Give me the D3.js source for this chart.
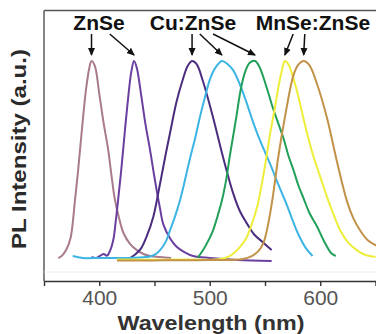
<!DOCTYPE html>
<html>
<head>
<meta charset="utf-8">
<script src="https://cdn.jsdelivr.net/npm/d3@7/dist/d3.min.js"></script>
<style>
  html, body { margin: 0; padding: 0; background: #fff; }
  svg { display: block; }
</style>
</head>
<body>
<div id="chart"></div>
<script>
// PL spectra: [wavelength (nm), normalised intensity]
const znseA = [[363,0],[366,0.01],[370,0.04],[374,0.1],[378,0.29],[381,0.45],[384,0.63],[388,0.85],[391,0.96],[393,0.995],
  [396,0.97],[400,0.83],[404,0.68],[408,0.55],[411,0.42],[414,0.3],[418,0.2],[422,0.125],[428,0.07],[434,0.04],
  [440,0.02],[446,0.01],[455,0.005],[465,0]];
const znseB = [[393,0.005],[397,0],[401,0.012],[404,0.02],[407,0.012],[410,0.04],[413,0.1],[415,0.19],[417,0.29],[420,0.45],
  [423,0.63],[426,0.8],[429,0.94],[431.5,0.995],[434,0.96],[438,0.82],[442,0.67],[446,0.545],[449,0.44],[452,0.34],
  [455,0.25],[458,0.17],[464,0.1],[470,0.057],[477,0.03],[485,0.01],[500,0],[525,-0.01],[556,-0.015]];
const cuA = [[428,0],[433,0.02],[438,0.05],[443,0.11],[449,0.21],[455,0.375],[460,0.52],[464,0.63],[470,0.79],[475,0.89],
  [480,0.97],[484,0.995],[488,0.98],[494,0.89],[503,0.71],[512,0.51],[521,0.33],[527,0.24],[533,0.18],[540,0.12],
  [548,0.08],[556,0.04]];
const cuB = [[376,0.01],[385,0],[400,0],[420,0],[440,0.004],[446,0.008],[451,0.02],[455,0.04],[460,0.08],[464,0.14],
  [468,0.2],[473,0.29],[477,0.38],[482,0.5],[487,0.61],[491,0.71],[496,0.82],[500,0.9],[505,0.96],[511,0.995],
  [516,0.98],[521,0.95],[527,0.88],[533,0.79],[539,0.69],[545,0.6],[550,0.535],[555,0.47],[560,0.4],[564,0.345],
  [570,0.265],[575,0.19],[581,0.11],[587,0.05],[593,0.01]];
const cuC = [[489,0],[494,0.04],[498,0.08],[503,0.14],[507,0.21],[511,0.29],[515,0.4],[518,0.51],[521,0.61],[524,0.71],
  [528,0.85],[532,0.94],[536,0.985],[541,0.995],[545,0.965],[551,0.87],[557,0.76],[562,0.68],[567,0.6],[571,0.52],
  [576,0.44],[580,0.37],[585,0.3],[590,0.23],[597,0.16],[603,0.09],[610,0.024],[614,0.01]];
const mnA = [[416,-0.008],[480,-0.008],[510,-0.005],[518,0.01],[523,0.03],[528,0.06],[533,0.1],[538,0.17],[543,0.26],[547,0.37],
  [551,0.5],[555,0.64],[559,0.76],[562,0.86],[565,0.94],[568,0.995],[571,0.98],[575,0.92],[580,0.82],[585,0.7],
  [589,0.61],[594,0.51],[600,0.41],[606,0.31],[612,0.22],[618,0.14],[625,0.08],[633,0.04],[641,0.015],[650,0.005]];
const mnB = [[416,-0.012],[450,-0.012],[500,-0.01],[530,-0.005],[538,0.01],[544,0.035],[548.5,0.075],[553,0.175],[557.5,0.325],[562,0.51],
  [568,0.71],[575.6,0.92],[580,0.975],[585,0.995],[590,0.975],[597,0.88],[606,0.71],[615,0.49],[624,0.29],[630,0.2],
  [636,0.14],[643,0.09],[652,0.06]];

const seriesList = [znseA, znseB, cuA, cuB, cuC, mnA, mnB];
const seriesColors = ['#a97a8c', '#6b3fa0', '#4b2d7f', '#3cb4e4', '#22a05a', '#eeee3a', '#c29248'];

const xTicks = [350, 400, 450, 500, 550, 600, 650];

// group labels (centre wavelength) and arrows (tail wavelength -> series peak)
const groupLabels = ['ZnSe', 'Cu:ZnSe', 'MnSe:ZnSe'];
const groupLabelNm = [399.8, 484.8, 593.4];
const arrowTailNm = [393, 409.5, 484, 491, 503, 575.5, 586];
const arrowSeries = [0, 1, 2, 3, 4, 5, 6];

const width = 376, height = 334;
const font = '"Liberation Sans", Arial, Helvetica, sans-serif';

const svg = d3.select('#chart').append('svg')
  .attr('width', width)
  .attr('height', height);

const x = d3.scaleLinear().domain([350, 650]).range([44, 375.5]);
const y = d3.scaleLinear().domain([0, 1]).range([258, 60]);

const axisY = 281, topY = 10.5;

// frame
svg.append('line')
  .attr('x1', x.range()[0]).attr('x2', width)
  .attr('y1', topY).attr('y2', topY)
  .attr('stroke', '#555').attr('stroke-width', 1.6);
svg.append('line')
  .attr('x1', x.range()[0]).attr('x2', x.range()[0])
  .attr('y1', topY).attr('y2', axisY)
  .attr('stroke', '#666').attr('stroke-width', 1.6);
svg.append('line')
  .attr('x1', x.range()[0]).attr('x2', width)
  .attr('y1', axisY - 9).attr('y2', axisY - 9)
  .attr('stroke', '#ececec').attr('stroke-width', 1);

// spectra
const line = d3.line()
  .x(d => x(d[0]))
  .y(d => y(d[1]))
  .curve(d3.curveCatmullRom.alpha(0.5));

svg.append('g')
  .selectAll('path')
  .data(seriesList)
  .join('path')
    .attr('d', line)
    .attr('fill', 'none')
    .attr('stroke', (d, i) => seriesColors[i])
    .attr('stroke-width', 2)
    .attr('stroke-linejoin', 'round');

// x axis
const xAxis = svg.append('g')
  .attr('transform', `translate(0,${axisY})`)
  .call(d3.axisBottom(x)
    .tickValues(xTicks)
    .tickFormat(d => d % 100 === 0 ? d : '')
    .tickSize(5)
    .tickPadding(4)
    .tickSizeOuter(0));
xAxis.select('.domain').attr('stroke', '#333').attr('stroke-width', 1.6);
xAxis.selectAll('.tick line').attr('stroke', '#333').attr('stroke-width', 1.4);
xAxis.selectAll('.tick text')
  .attr('font-family', font)
  .attr('font-size', 21)
  .attr('fill', '#555');

svg.append('text')
  .attr('x', 211).attr('y', 329.5)
  .attr('text-anchor', 'middle')
  .attr('font-family', font)
  .attr('font-size', 21)
  .attr('font-weight', 'bold')
  .attr('fill', '#333')
  .attr('textLength', 187)
  .attr('lengthAdjust', 'spacingAndGlyphs')
  .text('Wavelength (nm)');

svg.append('text')
  .attr('transform', 'translate(25.5,149) rotate(-90)')
  .attr('text-anchor', 'middle')
  .attr('font-family', font)
  .attr('font-size', 21)
  .attr('font-weight', 'bold')
  .attr('fill', '#2a2a2a')
  .attr('textLength', 200)
  .attr('lengthAdjust', 'spacingAndGlyphs')
  .text('PL Intensity (a.u.)');

// annotations
svg.append('defs').append('marker')
  .attr('id', 'head')
  .attr('viewBox', '0 0 8 8')
  .attr('refX', 7).attr('refY', 4)
  .attr('markerWidth', 8).attr('markerHeight', 8)
  .attr('markerUnits', 'userSpaceOnUse')
  .attr('orient', 'auto')
  .append('path')
    .attr('d', 'M0,0.5 L8,4 L0,7.5 Z')
    .attr('fill', '#111');

svg.append('g')
  .selectAll('text')
  .data(groupLabels)
  .join('text')
    .attr('x', (d, i) => x(groupLabelNm[i]))
    .attr('y', 30)
    .attr('text-anchor', 'middle')
    .attr('font-family', font)
    .attr('font-size', 21)
    .attr('font-weight', 'bold')
    .attr('fill', '#111')
    .text(d => d);

svg.append('g')
  .selectAll('line')
  .data(arrowSeries)
  .join('line')
    .attr('x1', (s, i) => x(arrowTailNm[i]))
    .attr('y1', 34)
    .attr('x2', s => x(d3.greatest(seriesList[s], d => d[1])[0]))
    .attr('y2', y(1) - 5)
    .attr('stroke', '#111')
    .attr('stroke-width', 1.5)
    .attr('marker-end', 'url(#head)');
</script>
</body>
</html>
